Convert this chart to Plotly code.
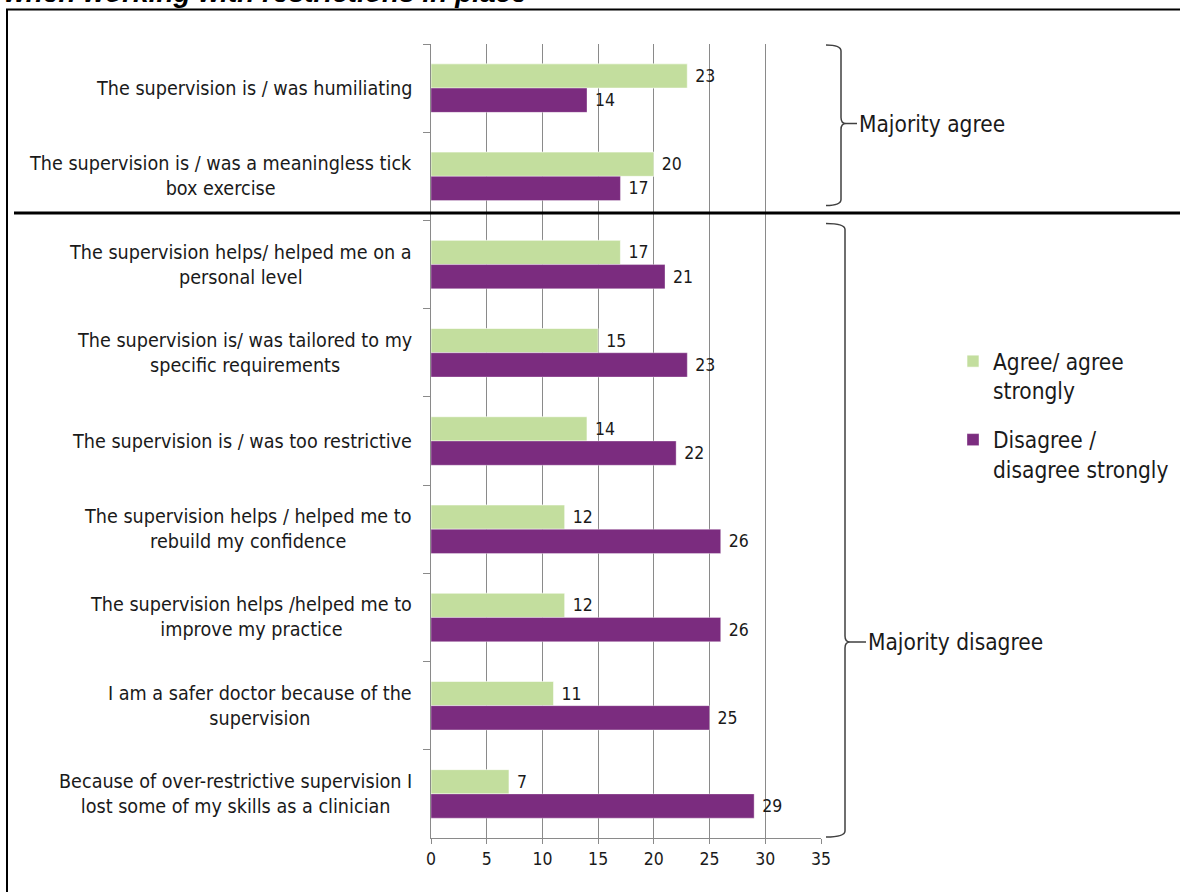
import plotly.graph_objects as go

# ---- data -------------------------------------------------------------
statements = [
    "The supervision is / was humiliating",
    "The supervision is / was a meaningless tick<br>box exercise",
    "The supervision helps/ helped me on a<br>personal level",
    "The supervision is/ was tailored to my<br>specific requirements",
    "The supervision is / was too restrictive",
    "The supervision helps / helped me to<br>rebuild my confidence",
    "The supervision helps /helped me to<br>improve my practice",
    "I am a safer doctor because of the<br>supervision",
    "Because of over-restrictive supervision I<br>lost some of my skills as a clinician",
]
agree = [23, 20, 17, 15, 14, 12, 12, 11, 7]
disagree = [14, 17, 21, 23, 22, 26, 26, 25, 29]
series_names = ["Agree/ agree<br>strongly", "Disagree /<br>disagree strongly"]
x_ticks = [0, 5, 10, 15, 20, 25, 30, 35]
# (label, first statement index, end index)
groups = [("Majority agree", 0, 2), ("Majority disagree", 2, 9)]
title_text = "when working with restrictions in place"

# ---- styling ----------------------------------------------------------
GREEN = "#C3DE9E"
PURPLE = "#7B2C7F"
GRID = "#8A8A8A"
INK = "#1A1A1A"
FONT = "DejaVu Sans Condensed, DejaVu Sans, sans-serif"

W, H = 1180, 892
L, R, T, B = 431, 821, 44, 838  # plot area in pixels
PW, PH = R - L, B - T


def xp(px):
    return (px - L) / PW


def yp(py):
    return (B - py) / PH


cats = [f"c{i}" for i in range(len(statements))]
n = len(cats)
band = PH / n

fig = go.Figure()
fig.add_trace(go.Bar(
    y=cats, x=agree, orientation="h", name=series_names[0], legendgroup="a",
    marker=dict(color=GREEN, line=dict(color="rgba(255,255,255,0.6)", width=1)),
    texttemplate="\u00a0%{x}", textposition="outside",
    textfont=dict(family=FONT, size=17.5, color=INK), cliponaxis=False,
))
fig.add_trace(go.Bar(
    y=cats, x=disagree, orientation="h", name=series_names[1], legendgroup="b",
    marker=dict(color=PURPLE, line=dict(color="rgba(255,255,255,0.35)", width=1)),
    texttemplate="\u00a0%{x}", textposition="outside",
    textfont=dict(family=FONT, size=17.5, color=INK), cliponaxis=False,
))

annotations = []
# statement labels, centred lines, right-aligned block
for c, s in zip(cats, statements):
    annotations.append(dict(
        x=0, xref="paper", y=c, yref="y", xanchor="right", yanchor="middle",
        xshift=-17, text=s, align="center", showarrow=False,
        font=dict(family=FONT, size=19.6, color=INK),
    ))

shapes = []
# braces grouping the statements
insets = [(1, 15), (3, 1)]
spines = [841, 845]
text_x = [857, 866]
tip_frac = [0.49, 0.682]
for (label, i0, i1), (it, ib), sx, tx, tf in zip(groups, insets, spines, text_x, tip_frac):
    ytop = T + i0 * band + it
    ybot = T + i1 * band - ib
    ytip = ytop + tf * (ybot - ytop)
    x0, x2, r = 826, sx + 5, 6
    pts = (
        f"M {xp(x0)},{yp(ytop)} Q {xp(sx)},{yp(ytop)} {xp(sx)},{yp(ytop + r)} "
        f"L {xp(sx)},{yp(ytip - r)} Q {xp(sx)},{yp(ytip)} {xp(x2)},{yp(ytip)} "
        f"Q {xp(sx)},{yp(ytip)} {xp(sx)},{yp(ytip + r)} "
        f"L {xp(sx)},{yp(ybot - r)} Q {xp(sx)},{yp(ybot)} {xp(x0)},{yp(ybot)} "
        f"M {xp(x2)},{yp(ytip)} L {xp(tx)},{yp(ytip)}"
    )
    shapes.append(dict(type="path", xref="paper", yref="paper", path=pts,
                       line=dict(color="#404040", width=1.5)))
    annotations.append(dict(
        x=xp(tx), xref="paper", y=yp(ytip), yref="paper", xanchor="left",
        yanchor="middle", text=label, showarrow=False,
        font=dict(family=FONT, size=22.5, color=INK),
    ))

# separator between the two groups
sep_y = T + groups[0][2] * band - 7.5
shapes.append(dict(type="line", xref="paper", yref="paper",
                   x0=xp(14), x1=xp(W + 10), y0=yp(sep_y), y1=yp(sep_y),
                   line=dict(color="black", width=3), layer="above"))
# frame
shapes.append(dict(type="rect", xref="paper", yref="paper",
                   x0=xp(7), x1=xp(W + 20), y0=yp(9.5), y1=yp(H + 20),
                   line=dict(color="black", width=2), layer="above"))

# heading (runs off the top edge)
annotations.append(dict(
    x=xp(529), xref="paper", y=yp(10), yref="paper", xanchor="right",
    yanchor="bottom", text=f"<b><i>{title_text}</i></b>", showarrow=False,
    font=dict(family="Liberation Sans, Arial, sans-serif", size=28, color="black"),
))

fig.update_layout(
    width=W, height=H,
    margin=dict(l=L, r=W - R, t=T, b=H - B, autoexpand=False),
    paper_bgcolor="white", plot_bgcolor="white",
    barmode="group", bargap=0.45, bargroupgap=0,
    showlegend=True,
    legend=dict(
        x=xp(953), y=yp(340), xanchor="left", yanchor="top",
        font=dict(family=FONT, size=22.5, color=INK),
        valign="top", tracegroupgap=17, bgcolor="rgba(0,0,0,0)",
    ),
    annotations=annotations, shapes=shapes,
)

fig.update_xaxes(
    range=[0, 35], tickvals=x_ticks, showgrid=True, gridcolor=GRID, gridwidth=1,
    showline=True, linecolor=GRID, linewidth=1, ticks="outside", ticklen=5,
    tickcolor=GRID, zeroline=False,
    tickfont=dict(family=FONT, size=17.5, color=INK),
)
fig.update_yaxes(
    categoryorder="array", categoryarray=cats, autorange="reversed",
    showticklabels=False, showgrid=False, showline=True, linecolor=GRID,
    linewidth=1, ticks="outside", tickson="boundaries", ticklen=7, tickcolor=GRID,
    zeroline=False,
)

fig.write_html("out.html")
